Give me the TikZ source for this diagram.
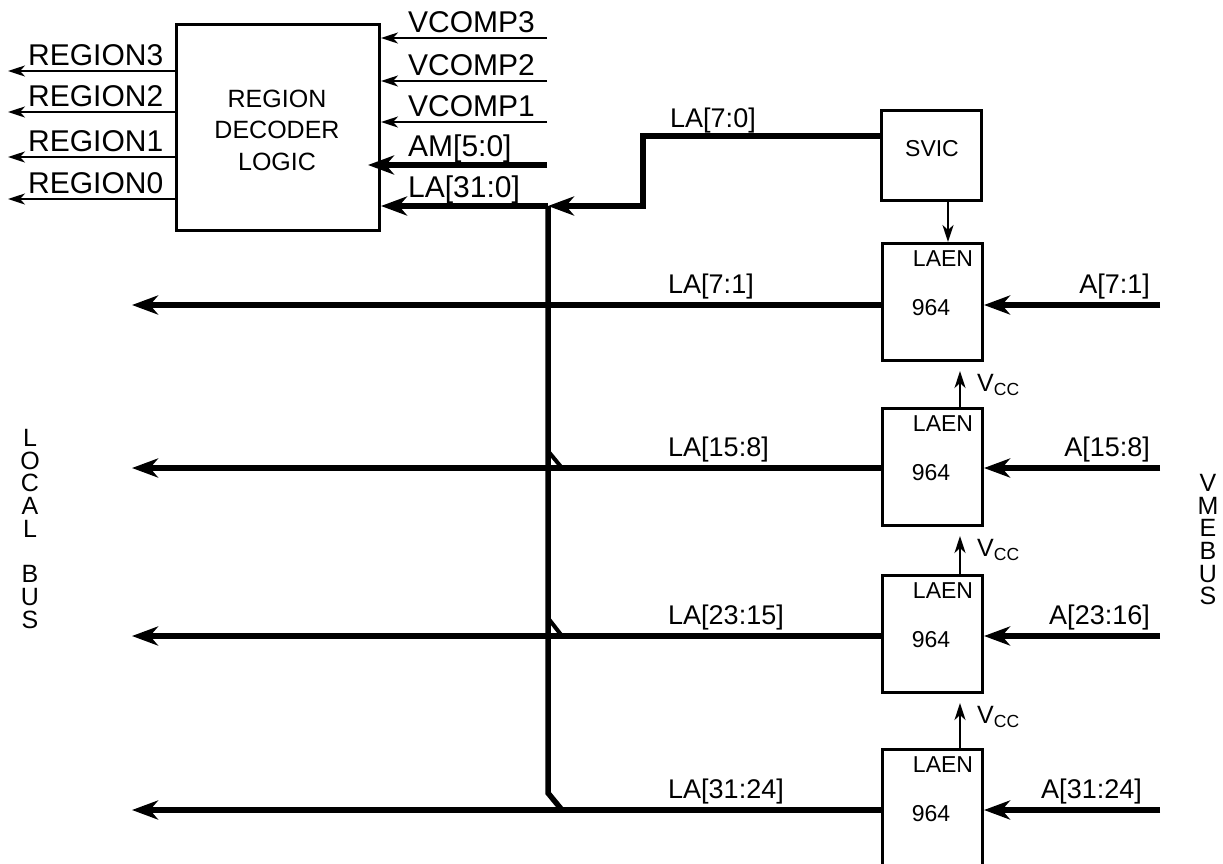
\documentclass[tikz,border=0pt]{standalone}
\usepackage{fontspec}
\setmainfont{Liberation Sans}
\usetikzlibrary{arrows.meta,calc}
\begin{document}
\begin{tikzpicture}[x=1pt,y=-1pt,
  txt/.style={font=\fontsize{27}{31}\selectfont, inner sep=0pt},
  iotxt/.style={font=\fontsize{30}{34}\selectfont, inner sep=0pt},
  dectxt/.style={font=\fontsize{25}{31.5}\selectfont, inner sep=0pt, align=center},
  smalltxt/.style={font=\fontsize{23}{26}\selectfont, inner sep=0pt},
  vert/.style={font=\fontsize{25}{22.7}\selectfont, inner sep=0pt, align=center},
  box/.style={draw, line width=3pt, minimum width=100pt, minimum height=117pt, inner sep=0pt},
  thinarr/.style={line width=2.4pt, -{Stealth[length=17pt,width=11pt,inset=5pt]}},
  thickarr/.style={line width=5.5pt, -{Stealth[length=26pt,width=19pt,inset=8pt]}},
  bus/.style={line width=5.5pt},
  stub/.style={line width=4pt},
]
\useasboundingbox (0,0) rectangle (1223,863);

% region decoder
\node[draw, line width=3pt, minimum width=203pt, minimum height=206pt, inner sep=0pt, anchor=north west] (dec) at (175,23) {};
\node[dectxt] (declbl) at (277,130) {REGION\\DECODER\\LOGIC};

% outputs
\foreach \y/\t/\n in {71/REGION3/r3,112/REGION2/r2,157/REGION1/r1,199/REGION0/r0}{
  \coordinate (\n) at (8,\y);
  \draw[thinarr] (\n -| dec.west) -- (\n);
  \node[iotxt, anchor=base west] (\n lbl) at (28,\y-6) {\t};
}
% inputs
\foreach \y/\t/\n in {38/VCOMP3/v3,81/VCOMP2/v2,122/VCOMP1/v1}{
  \coordinate (\n) at (547,\y);
  \draw[thinarr] (\n) -- (\n -| dec.east);
  \node[iotxt, anchor=base west] (\n lbl) at (408,\y-6) {\t};
}
\coordinate (am) at (547,165);
\coordinate (amtip) at (368,165);
\draw[thickarr] (am) -- (amtip);
\node[iotxt, anchor=base west] (amlbl) at (408,156) {AM[5:0]};

% SVIC
\node[draw, line width=3pt, minimum width=100pt, minimum height=90pt, inner sep=0pt] (svic) at (931,155) {};
\node[smalltxt] (sviclbl) at (932,149) {SVIC};

% LAEN boxes
\node[box, anchor=north west] (b1) at (881,242) {};
\node[box, anchor=north west] (b2) at (881,407) {};
\node[box, anchor=north west] (b3) at (881,574) {};
\node[box, anchor=north west, minimum height=140pt] (b4) at (881,748) {};
\foreach \b in {b1,b2,b3,b4}{
  \node[smalltxt] (\b laen) at ($(\b.north west)+(62,17)$) {LAEN};
  \node[smalltxt] (\b num) at ($(\b.north west)+(50,66)$) {964};
}
% SVIC -> LAEN
\draw[thinarr] (svic.south -| 948,0) -- (b1.north -| 948,0);

% Vcc arrows
\foreach \b/\p in {b2/b1,b3/b2,b4/b3}{
  \coordinate (\b vcc) at ($(\p.south -| 960,0)+(0,9)$);
  \draw[thinarr] (\b.north -| 960,0) -- (\b vcc);
  \node[anchor=west, inner sep=0pt, font=\fontsize{25}{28}\selectfont] (\b vcclbl) at ($(\b vcc)+(17,14)$) {V\textsubscript{CC}};
}

% LA[7:0] path
\coordinate (j0) at (548,206);
\coordinate (s1) at (643,136);
\coordinate (s2) at (643,206);
\draw[thickarr, line join=miter] (svic.west |- s1) -- (s1) -- (s2) -- (j0);
\draw[thickarr] (j0) -- (j0 -| dec.east);
\node[txt, anchor=base west] (la70) at (670,127) {LA[7:0]};
\node[iotxt, anchor=base west] (la310) at (408,197) {LA[31:0]};

% vertical bus
\coordinate (jb) at (548,793);
\coordinate (j4) at (562,810);
\draw[bus, line join=miter] (j0) -- (jb) -- (j4);
\coordinate (k2a) at (548,451);
\coordinate (k2b) at (562,468);
\coordinate (k3a) at (548,618);
\coordinate (k3b) at (562,636);
\draw[stub] (k2a) -- (k2b);
\draw[stub] (k3a) -- (k3b);

% local bus lines and VME inputs
\foreach \y/\b/\l/\a/\n/\ax in {305/b1/LA[7:1]/A[7:1]/1/1150, 468/b2/LA[15:8]/A[15:8]/2/1150, 636/b3/LA[23:15]/A[23:16]/3/1150, 810/b4/LA[31:24]/A[31:24]/4/1142}{
  \coordinate (lb\n) at (132,\y);
  \coordinate (vb\n) at (1160,\y);
  \draw[thickarr] (\b.west |- lb\n) -- (lb\n);
  \draw[thickarr] (vb\n) -- (vb\n -| \b.east);
  \node[txt, anchor=base west] (ll\n) at (668,\y-12) {\l};
  \node[txt, anchor=base east] (al\n) at (\ax,\y-12) {\a};
}

% bus side labels
\node[vert, anchor=north] (local) at (30,429) {L\\O\\C\\A\\L\\[22.7pt]B\\U\\S};
\node[vert, anchor=north] (vme) at (1208,474) {V\\M\\E\\B\\U\\S};
\end{tikzpicture}
\end{document}
